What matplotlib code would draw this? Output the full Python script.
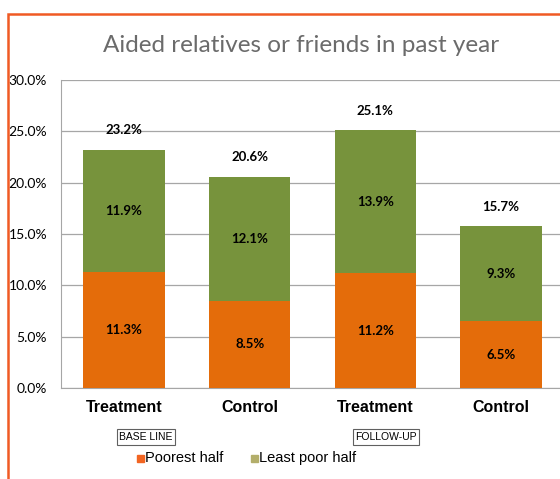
import matplotlib.pyplot as plt
from matplotlib.patches import Rectangle

groups = ["Treatment", "Control", "Treatment", "Control"]
poorest = [11.3, 8.5, 11.2, 6.5]
least_poor = [11.9, 12.1, 13.9, 9.3]
totals = [23.2, 20.6, 25.1, 15.7]
yticks = [0, 5, 10, 15, 20, 25, 30]

c_poor = "#e46c0a"
c_least = "#77933c"

fig = plt.figure(figsize=(5.6, 4.79), dpi=100)

# orange frame round the slide chart
fig.patches.append(Rectangle((8 / 560, -0.1), 1.2, 1 - 14 / 479 + 0.1,
                             transform=fig.transFigure, fill=False,
                             edgecolor="#f05a24", linewidth=1.8))

ax = fig.add_axes([61 / 560, 1 - 388 / 479, 503 / 560, 308 / 479])
x = range(len(groups))
ax.bar(x, poorest, width=0.65, color=c_poor, zorder=3)
ax.bar(x, least_poor, width=0.65, bottom=poorest, color=c_least, zorder=3)

for i in x:
    ax.text(i, poorest[i] / 2, f"{poorest[i]:.1f}%", ha="center", va="center",
            fontsize=9.5, fontweight="bold", family="Lato", zorder=4)
    ax.text(i, poorest[i] + least_poor[i] / 2, f"{least_poor[i]:.1f}%",
            ha="center", va="center", fontsize=9.5, fontweight="bold",
            family="Lato", zorder=4)
    ax.text(i, totals[i] + 1.3, f"{totals[i]:.1f}%", ha="center", va="bottom",
            fontsize=9.5, fontweight="bold", family="Lato")

ax.set_xlim(-0.5, 3.5)
ax.set_ylim(0, 30)
ax.set_yticks(yticks)
ax.set_yticklabels([f"{t:.1f}%" for t in yticks], fontsize=10, family="Lato")
ax.set_xticks(list(x))
ax.set_xticklabels(groups, fontsize=11.5, fontweight="bold",
                   family="Liberation Sans")
ax.tick_params(axis="y", length=0, pad=10)
ax.tick_params(axis="x", length=0, pad=9)
ax.yaxis.grid(True, color="#a6a6a6", linewidth=0.9, zorder=0)
for s in ["top", "right"]:
    ax.spines[s].set_visible(False)
ax.spines["left"].set_color("#a6a6a6")
ax.spines["bottom"].set_color("#a6a6a6")

fig.text(301 / 560, 1 - 45 / 479, "Aided relatives or friends in past year",
         ha="center", va="center", fontsize=17.5, color="#6b6b6b", family="Lato")

box = dict(boxstyle="square,pad=0.25", facecolor="white", edgecolor="#606060",
           linewidth=0.8)
fig.text(146 / 560, 1 - 437 / 479, "BASE LINE", ha="center", va="center",
         fontsize=7.5, family="Liberation Sans", bbox=box)
fig.text(386 / 560, 1 - 437 / 479, "FOLLOW-UP", ha="center", va="center",
         fontsize=7.5, family="Liberation Sans", bbox=box)

# legend drawn by hand: small squares with labels
fig.patches.append(Rectangle((137 / 560, 1 - 462 / 479), 7 / 560, 7 / 479,
                             transform=fig.transFigure, color="#f26522"))
fig.text(145 / 560, 1 - 458 / 479, "Poorest half", ha="left", va="center",
         fontsize=10.5, family="Liberation Sans")
fig.patches.append(Rectangle((251 / 560, 1 - 462 / 479), 7 / 560, 7 / 479,
                             transform=fig.transFigure, color="#b3ae6a"))
fig.text(259 / 560, 1 - 458 / 479, "Least poor half", ha="left", va="center",
         fontsize=10.5, family="Liberation Sans")

fig.savefig("out.png", dpi=100)
